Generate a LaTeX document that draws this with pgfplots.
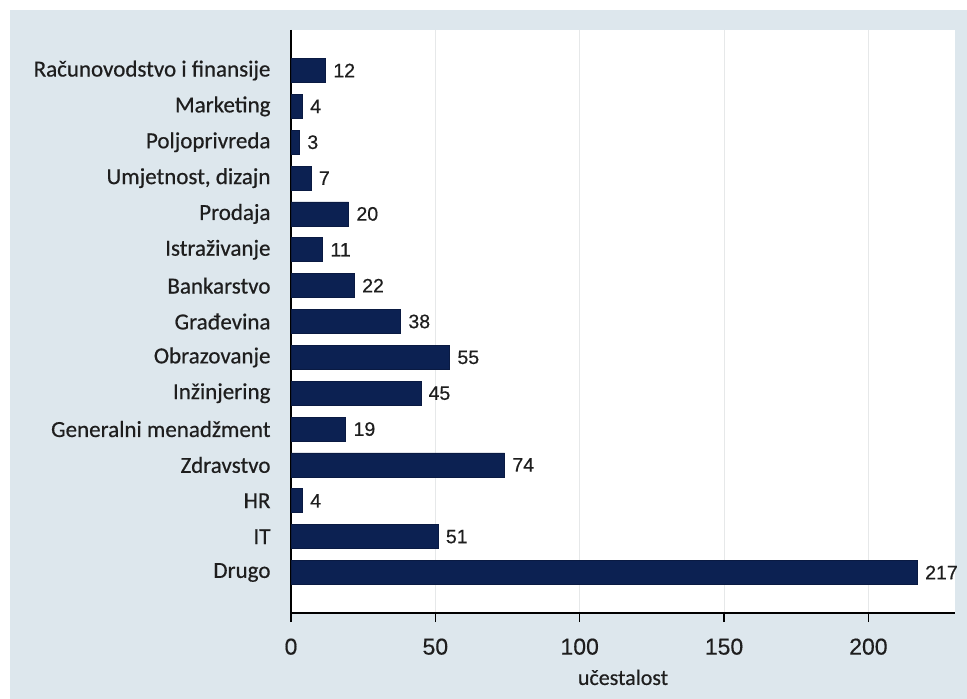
\documentclass[border=0pt]{standalone}
\usepackage{pgfplots}
\pgfplotsset{compat=1.18}
\usepackage{fontspec}
\setmainfont{Carlito}[FakeBold=0.5]
\newfontfamily\numfont{Liberation Sans}[FakeBold=0.4]
\definecolor{bgcol}{RGB}{221,231,237}
\definecolor{barcol}{RGB}{12,33,82}
\definecolor{gridcol}{RGB}{230,232,233}
\definecolor{txtcol}{RGB}{30,30,30}
\begin{document}
\begin{tikzpicture}[x=1bp,y=1bp]
\fill[white] (0,0) rectangle (967,699);
\fill[bgcol] (10,0) rectangle (967,689);
\begin{axis}[
  at={(291bp,86bp)}, anchor=south west,
  scale only axis, width=664bp, height=583bp,
  xbar, bar width=24bp,
  xmin=0, xmax=230,
  ymin=-0.13, ymax=16.13, y dir=reverse,
  axis background/.style={fill=white},
  axis x line*=bottom, axis y line*=left,
  axis line style={line width=1.5bp, black, -},
  xtick={0,50,100,150,200},
  xmajorgrids, grid style={gridcol, line width=1bp},
  major tick length=9bp,
  tick align=outside,
  tick style={line width=1.5bp, black},
  xtick pos=bottom,
  x tick label style={font=\numfont\fontsize{23bp}{23bp}\selectfont, text=txtcol, yshift=-13bp},
  /pgf/number format/assume math mode=true,
  ytick={1,...,15},
  yticklabels={Računovodstvo i finansije, Marketing, Poljoprivreda, {Umjetnost, dizajn}, Prodaja, Istraživanje, Bankarstvo, Građevina, Obrazovanje, Inžinjering, Generalni menadžment, Zdravstvo, HR, IT, Drugo},
  y tick label style={font=\fontsize{23bp}{23bp}\selectfont, text=txtcol, anchor=east, xshift=-8bp},
  ytick style={draw=none},
  xlabel={učestalost},
  xlabel style={font=\fontsize{22bp}{22bp}\selectfont, text=txtcol, yshift=-8bp},
  nodes near coords,
  nodes near coords style={font=\numfont\fontsize{19.5bp}{19.5bp}\selectfont, text=txtcol, anchor=west, xshift=4bp},
  point meta=x,
  clip=false,
]
\addplot[fill=barcol, draw=barcol!80!black, line width=0.8bp] coordinates {
  (12,1) (4,2) (3,3) (7,4) (20,5) (11,6) (22,7) (38,8)
  (55,9) (45,10) (19,11) (74,12) (4,13) (51,14) (217,15)
};
\end{axis}
\useasboundingbox (0,0) rectangle (967,699);
\end{tikzpicture}
\end{document}
